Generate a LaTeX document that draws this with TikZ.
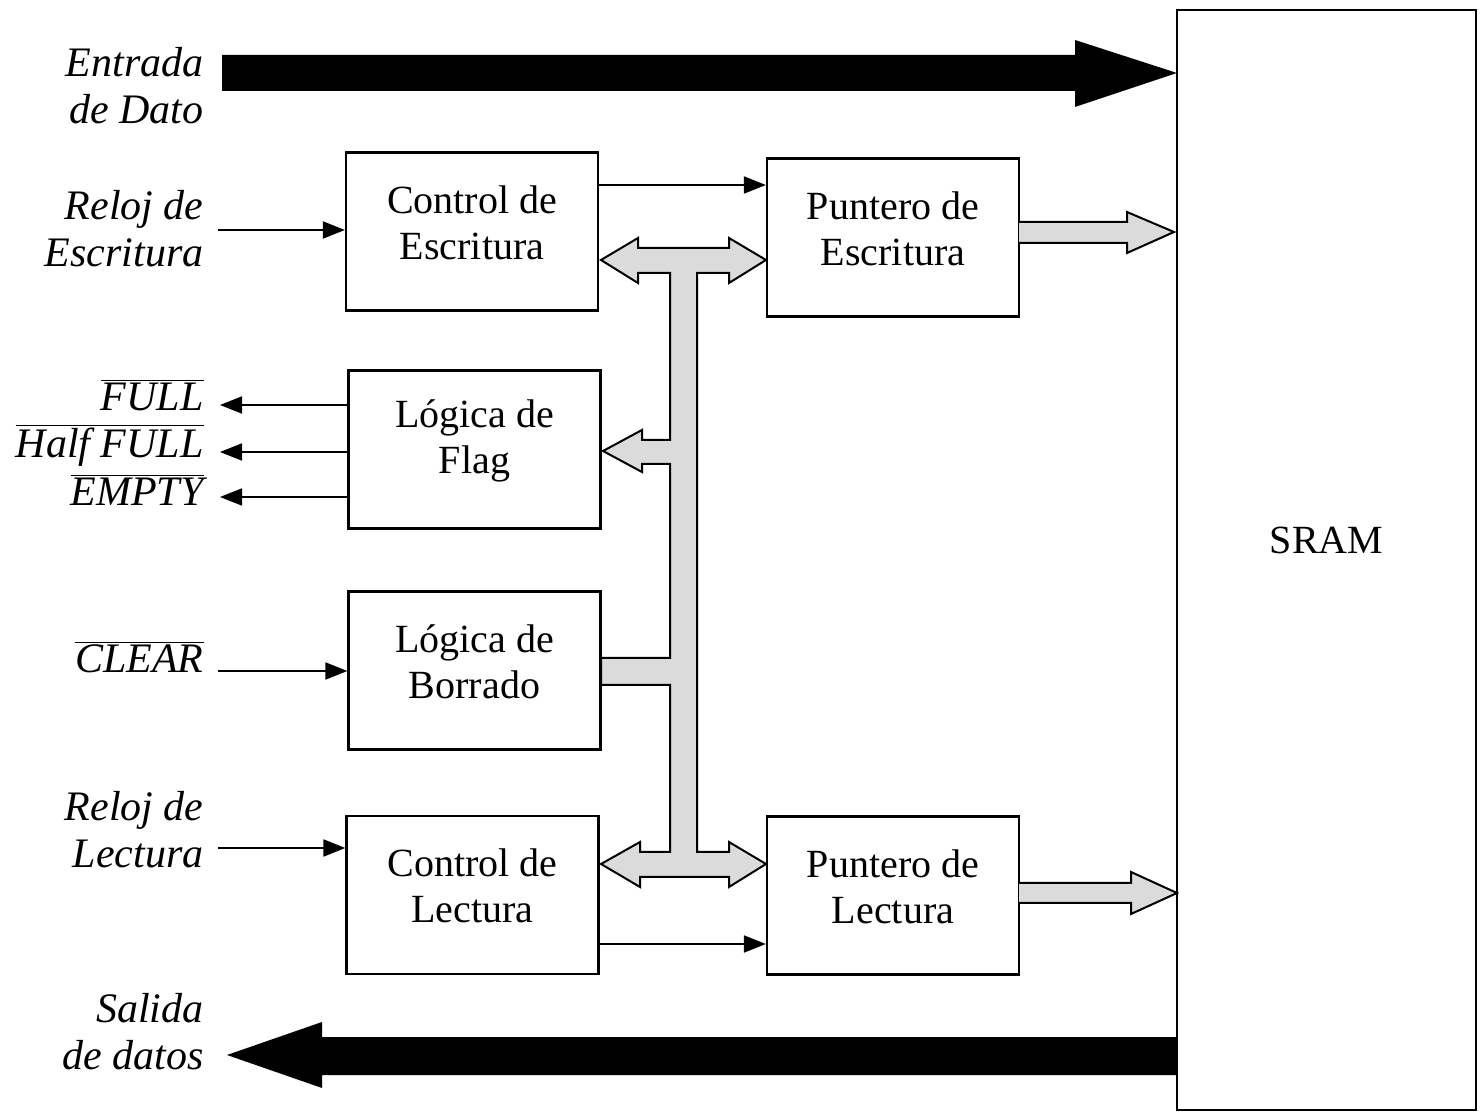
\documentclass[tikz,border=0pt]{standalone}
\usepackage{fontspec}
\setmainfont{Liberation Serif}
\usetikzlibrary{arrows.meta,calc}
\begin{document}
\begin{tikzpicture}[x=0.5pt,y=-0.5pt,
  blk/.style={draw,line width=1.1pt,inner sep=0pt,
    minimum width=126pt,minimum height=79pt},
  txt/.style={inner sep=0pt,align=center,yshift=4.5pt,
    font=\fontsize{20}{23}\selectfont},
  lbl/.style={anchor=east,inner sep=0pt,align=right,
    font=\fontsize{21}{23.5}\selectfont\itshape},
  sig/.style={line width=0.9pt,-{Triangle[length=11pt,width=8.5pt]}},
  bus/.style={fill=gray!28,draw=black,line width=1pt,line join=miter},
  wide/.style={fill=black}]
\useasboundingbox (0,0) rectangle (1480,1112);

% memory array
\node[draw,line width=1.1pt,minimum width=149.5pt,minimum height=550pt,
  label={[name=sramtxt,yshift=10pt,font=\fontsize{20}{23}\selectfont]center:SRAM}]
  (sram) at (1326.5,560) {};

% functional blocks
\node[blk,label={[txt,name=cwt]center:Control de\\Escritura}] (cw) at (472,231.5) {};
\node[blk,label={[txt,name=pwt]center:Puntero de\\Escritura}] (pw) at (893,237.5) {};
\node[blk,label={[txt,name=lft]center:Lógica de\\Flag}] (lf) at (474.5,449.5) {};
\node[blk,label={[txt,name=lbt]center:Lógica de\\Borrado}] (lb) at (474.5,670.5) {};
\node[blk,label={[txt,name=clt]center:Control de\\Lectura}] (cl) at (472.5,895) {};
\node[blk,label={[txt,name=plt]center:Puntero de\\Lectura}] (pl) at (893,895.5) {};

% external signal names
\node[lbl] (din)  at (204,86)  {Entrada\\de Dato};
\node[lbl] (rwl)  at (204,229) {Reloj de\\Escritura};
\node[lbl] (full) at (204,395) {$\overline{\mbox{FULL}}$};
\node[lbl] (half) at (204,445) {$\overline{\mbox{Half FULL}}$};
\node[lbl] (empt) at (204,490) {$\overline{\mbox{EMPTY}}$};
\node[lbl] (clr)  at (204,657) {$\overline{\mbox{CLEAR}}$};
\node[lbl] (rll)  at (204,830) {Reloj de\\Lectura};
\node[lbl] (dout) at (204,1032) {Salida\\de datos};

% free ends of the control lines
\coordinate (rw0) at (218,230);
\coordinate (f1) at (220,405);
\coordinate (f2) at (220,452);
\coordinate (f3) at (220,497);
\coordinate (cl0) at (218,671);
\coordinate (rl0) at (218,848);

% control lines
\draw[sig] (rw0) -- (rw0 -| cw.west);
\draw[sig] ([yshift=23.25pt]cw.east) coordinate (wp) -- (wp -| pw.west);
\draw[sig] (f1 -| lf.west) -- (f1);
\draw[sig] (f2 -| lf.west) -- (f2);
\draw[sig] (f3 -| lf.west) -- (f3);
\draw[sig] (cl0) -- (cl0 -| lb.west);
\draw[sig] (rl0) -- (rl0 -| cl.west);
\draw[sig] ([yshift=-24.5pt]cl.east) coordinate (rp) -- (rp -| pl.west);

% data in / data out
\fill[wide] (222,55) -- (1075,55) -- (1075,40) -- (1177,73) -- (1075,107)
  -- (1075,91) -- (222,91) -- cycle;
\fill[wide] (1177,1037) -- (322,1037) -- (322,1022) -- (227,1055)
  -- (322,1088) -- (322,1075) -- (1177,1075) -- cycle;

% address buses to the memory
\path[bus] (1019,222) -- (1127,222) -- (1127,212) -- (1174,232)
  -- (1127,253) -- (1127,243) -- (1019,243);
\path[bus] (1019,883) -- (1131,883) -- (1131,872) -- (1177,893)
  -- (1131,914) -- (1131,903) -- (1019,903);

% internal bus linking the blocks
\draw[bus] (601,260) -- (638,238) -- (638,248) -- (729,248) -- (729,238)
  -- (766,260) -- (729,283) -- (729,273) -- (697,273) -- (697,852)
  -- (729,852) -- (729,842) -- (766,864) -- (729,887) -- (729,877)
  -- (640,877) -- (640,887) -- (601,864) -- (640,842) -- (640,852)
  -- (670,852) -- (670,685) -- (601,685) -- (601,658) -- (670,658)
  -- (670,464) -- (642,464) -- (642,472) -- (603,451) -- (642,430)
  -- (642,440) -- (670,440) -- (670,273) -- (638,273) -- (638,283) -- cycle;
\end{tikzpicture}
\end{document}
